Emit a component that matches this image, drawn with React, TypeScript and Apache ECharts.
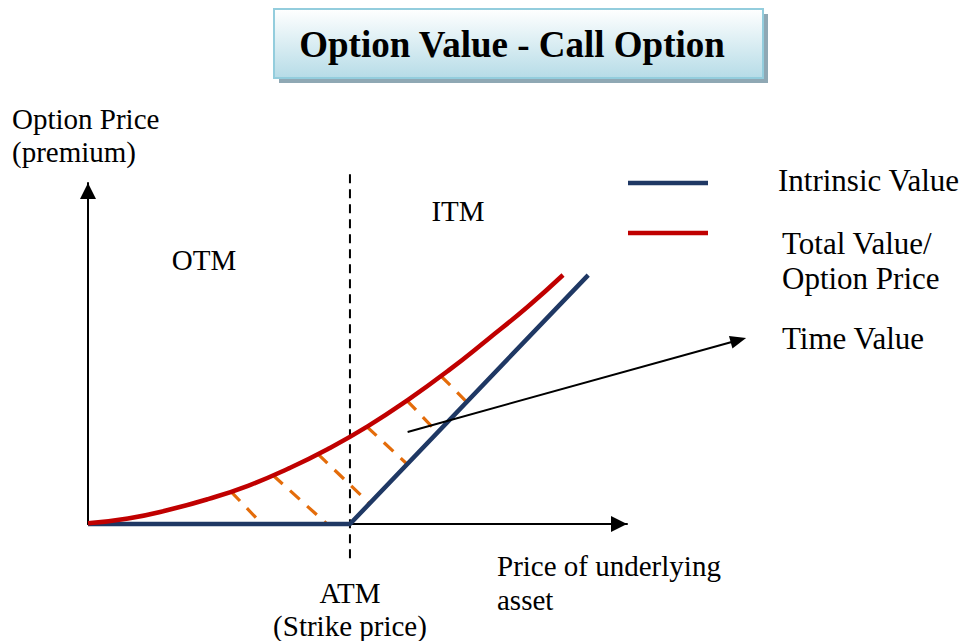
import React, { useEffect, useRef } from "react";
import * as echarts from "echarts";

// ---- data (x: price of underlying, y: option price; arbitrary units) ----
const intrinsicX = [0, 48.6, 92.8];
const intrinsicY = [0, 0, 73.0];

const totalX = [0, 7.42, 14.84, 22.26, 29.68, 37.11, 44.53, 51.95, 59.37, 66.79, 74.21, 81.63, 88.13];
const totalY = [0.2, 1.6, 4.1, 7.3, 11.2, 16.2, 22.0, 28.7, 36.4, 44.9, 54.2, 63.8, 73.02];

// time-value hatch lines (from total-value curve down to intrinsic line)
const hatchFromX = [26.53, 34.32, 42.67, 51.76, 59.18, 65.49];
const hatchFromY = [9.5, 14.3, 20.5, 28.5, 36.2, 43.4];
const hatchToX = [32.28, 44.34, 52.13, 59.18, 64.75, 70.2];
const hatchToY = [0, 0, 6.16, 17.6, 26.98, 35.9];

const strikePrice = 48.6;
const strikeLineY = [102.6, -11.5];

// time value pointer: [fromX, fromY, toX, toY]
const timeArrow = [59.3, 27.0, 122.1, 54.55];

const titleText = "Option Value - Call Option";
const legendNames = ["Intrinsic Value", "Total Value/\nOption Price", "Time Value"];

const SERIF = "'Liberation Serif', 'Times New Roman', serif";
const BLUE = "#1f3864";
const RED = "#c00000";
const ORANGE = "#e46c0a";

export default function App() {
  const ref = useRef<HTMLDivElement>(null);

  useEffect(() => {
    if (!ref.current) return;
    const chart = echarts.init(ref.current, null, { renderer: "svg" });

    const hatchSeries = hatchFromX.map((_, i) => ({
      type: "line",
      silent: true,
      symbol: "none",
      clip: false,
      data: [
        [hatchFromX[i], hatchFromY[i]],
        [hatchToX[i], hatchToY[i]],
      ],
      lineStyle: { color: ORANGE, width: 3.2, type: [13, 10], cap: "butt" },
      z: 1,
    }));

    const txt = (text: string, x: number, y: number, size: number, align = "left", bold = false) => ({
      type: "text",
      x,
      y,
      silent: true,
      style: {
        text,
        fill: "#000",
        font: `${bold ? "bold " : ""}${size}px ${SERIF}`,
        align,
        verticalAlign: "middle",
      },
      z: 10,
    });

    chart.setOption({
      animation: false,
      backgroundColor: "#ffffff",
      grid: { left: 88, top: 183, right: 343, bottom: 117 },
      xAxis: {
        type: "value",
        min: 0,
        max: 100,
        axisLine: {
          show: true,
          onZero: false,
          lineStyle: { color: "#000", width: 2 },
          symbol: ["none", "triangle"],
          symbolSize: [16, 16],
          symbolOffset: [0, -8],
        },
        axisTick: { show: false },
        axisLabel: { show: false },
        splitLine: { show: false },
      },
      yAxis: {
        type: "value",
        min: 0,
        max: 100,
        axisLine: {
          show: true,
          onZero: false,
          lineStyle: { color: "#000", width: 2 },
          symbol: ["none", "triangle"],
          symbolSize: [16, 16],
          symbolOffset: [0, -8],
        },
        axisTick: { show: false },
        axisLabel: { show: false },
        splitLine: { show: false },
      },
      series: [
        ...hatchSeries,
        {
          type: "line",
          name: "strike",
          silent: true,
          symbol: "none",
          clip: false,
          data: [
            [strikePrice, strikeLineY[0]],
            [strikePrice, strikeLineY[1]],
          ],
          lineStyle: { color: "#000", width: 2, type: [9, 6] },
          z: 2,
        },
        {
          type: "line",
          name: legendNames[0],
          silent: true,
          symbol: "none",
          clip: false,
          data: intrinsicX.map((x, i) => [x, intrinsicY[i]]),
          lineStyle: { color: BLUE, width: 4.5 },
          z: 3,
        },
        {
          type: "custom",
          name: legendNames[1],
          silent: true,
          clip: false,
          encode: { x: 0, y: 1 },
          data: [[totalX[0], totalY[0]]],
          renderItem: (params: any, api: any) => {
            const pts = totalX.map((x, i) => api.coord([x, totalY[i]]));
            return {
              type: "polyline",
              shape: { points: pts, smooth: 0.5 },
              style: { stroke: RED, lineWidth: 4.5, fill: "none", lineJoin: "round" },
            };
          },
          z: 4,
        },
        {
          type: "custom",
          name: legendNames[2],
          silent: true,
          clip: false,
          encode: { x: [0, 2], y: [1, 3] },
          data: [timeArrow],
          renderItem: (params: any, api: any) => {
            const p1 = api.coord([api.value(0), api.value(1)]);
            const p2 = api.coord([api.value(2), api.value(3)]);
            const dx = p2[0] - p1[0];
            const dy = p2[1] - p1[1];
            const len = Math.sqrt(dx * dx + dy * dy);
            const ux = dx / len;
            const uy = dy / len;
            const headLen = 16;
            const headHalf = 6.5;
            const bx = p2[0] - ux * headLen;
            const by = p2[1] - uy * headLen;
            return {
              type: "group",
              children: [
                {
                  type: "line",
                  shape: { x1: p1[0], y1: p1[1], x2: bx + ux * 2, y2: by + uy * 2 },
                  style: { stroke: "#000", lineWidth: 2 },
                },
                {
                  type: "polygon",
                  shape: {
                    points: [
                      [p2[0], p2[1]],
                      [bx - uy * headHalf, by + ux * headHalf],
                      [bx + uy * headHalf, by - ux * headHalf],
                    ],
                  },
                  style: { fill: "#000" },
                },
              ],
            };
          },
          z: 5,
        },
      ],
      graphic: [
        // title box shadow + box
        {
          type: "rect",
          silent: true,
          shape: { x: 279, y: 14, width: 489, height: 69 },
          style: { fill: "#8fa8b4" },
          z: 1,
        },
        {
          type: "rect",
          silent: true,
          shape: { x: 274, y: 9, width: 489, height: 69 },
          style: {
            fill: new echarts.graphic.LinearGradient(0, 0, 0, 1, [
              { offset: 0, color: "#ffffff" },
              { offset: 1, color: "#b6dce7" },
            ]),
            stroke: "#93cddd",
            lineWidth: 2,
          },
          z: 2,
        },
        txt(titleText, 512, 44, 37, "center", true),
        // axis captions
        txt("Option Price", 12, 119, 29),
        txt("(premium)", 12, 152, 29),
        txt("OTM", 204, 260, 29, "center"),
        txt("ITM", 458, 211, 29, "center"),
        txt("ATM", 350, 593, 29, "center"),
        txt("(Strike price)", 350, 626, 29, "center"),
        txt("Price of underlying", 497, 566, 29),
        txt("asset", 497, 600, 29),
        // legend
        {
          type: "line",
          silent: true,
          shape: { x1: 628, y1: 183, x2: 708, y2: 183 },
          style: { stroke: BLUE, lineWidth: 4.5 },
        },
        {
          type: "line",
          silent: true,
          shape: { x1: 628, y1: 233, x2: 708, y2: 233 },
          style: { stroke: RED, lineWidth: 4.5 },
        },
        txt(legendNames[0], 778, 180, 31),
        txt("Total Value/", 782, 243, 31),
        txt("Option Price", 782, 278, 31),
        txt(legendNames[2], 782, 338, 31),
      ],
    });

    return () => chart.dispose();
  }, []);

  return (
    <div
      ref={ref}
      style={{ position: "absolute", left: 0, top: 0, width: 970, height: 641, background: "#fff" }}
    />
  );
}
